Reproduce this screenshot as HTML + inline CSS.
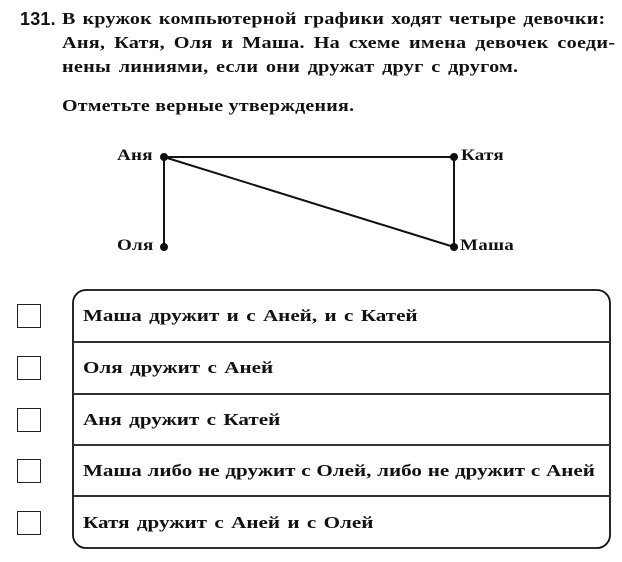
<!DOCTYPE html>
<html><head><meta charset="utf-8"><style>
body{margin:0;width:622px;height:562px;background:#fff;position:relative;font-family:"Liberation Serif",serif;color:#111;overflow:hidden}
.t,.r{position:absolute;font-weight:bold;white-space:nowrap;transform-origin:0 0;transform:scaleX(1.19)}
.t{font-size:17px;letter-spacing:0.2px}
.r{left:83px;font-size:17px;transform:scaleX(1.24)}
.cb{position:absolute;left:17px;width:22px;height:22px;border:1.5px solid #222}
.ln{position:absolute;left:73px;width:537px;height:1.5px;background:#333}
</style></head><body>
<div class="t" style="left:20px;top:9px;font-family:'Liberation Sans',sans-serif;font-size:18px;transform:none">131.</div>
<div class="t" style="left:62px;top:9px;word-spacing:1.5px;transform:scaleX(1.18)">В кружок компьютерной графики ходят четыре девочки:</div>
<div class="t" style="left:62px;top:33px;word-spacing:3px">Аня, Катя, Оля и Маша. На схеме имена девочек соеди-</div>
<div class="t" style="left:62px;top:57px;word-spacing:2px">нены линиями, если они дружат друг с другом.</div>
<div class="t" style="left:62px;top:96px;font-size:16.5px;transform:scaleX(1.21)">Отметьте верные утверждения.</div>
<svg style="position:absolute;left:0;top:0" width="622" height="562">
<g stroke="#111" stroke-width="2" fill="none">
<line x1="164" y1="157" x2="454" y2="157"/><line x1="164" y1="157" x2="164" y2="247"/>
<line x1="164" y1="157" x2="454" y2="247"/><line x1="454" y1="157" x2="454" y2="247"/>
<rect x="73" y="290" width="537" height="258" rx="13" stroke-width="1.8"/>
</g>
<g fill="#111"><circle cx="164" cy="157" r="4"/><circle cx="454" cy="157" r="4"/><circle cx="164" cy="247" r="4"/><circle cx="454" cy="247" r="4"/></g>
</svg>
<div class="t" style="left:117px;top:147px;font-size:16px">Аня</div>
<div class="t" style="left:461px;top:147px;font-size:16px">Катя</div>
<div class="t" style="left:117px;top:237px;font-size:16px">Оля</div>
<div class="t" style="left:460px;top:237px;font-size:16px">Маша</div>
<div class="ln" style="top:341px"></div><div class="ln" style="top:393px"></div><div class="ln" style="top:444px"></div><div class="ln" style="top:495px"></div>
<div class="cb" style="top:304px"></div><div class="cb" style="top:356px"></div><div class="cb" style="top:408px"></div><div class="cb" style="top:459px"></div><div class="cb" style="top:511px"></div>
<div class="r" style="top:306px;word-spacing:1.7px">Маша дружит и с Аней, и с Катей</div>
<div class="r" style="top:358px;word-spacing:1.7px">Оля дружит с Аней</div>
<div class="r" style="top:410px;word-spacing:1.7px">Аня дружит с Катей</div>
<div class="r" style="top:461px;word-spacing:0.4px">Маша либо не дружит с Олей, либо не дружит с Аней</div>
<div class="r" style="top:513px;word-spacing:1.7px">Катя дружит с Аней и с Олей</div>
</body></html>
